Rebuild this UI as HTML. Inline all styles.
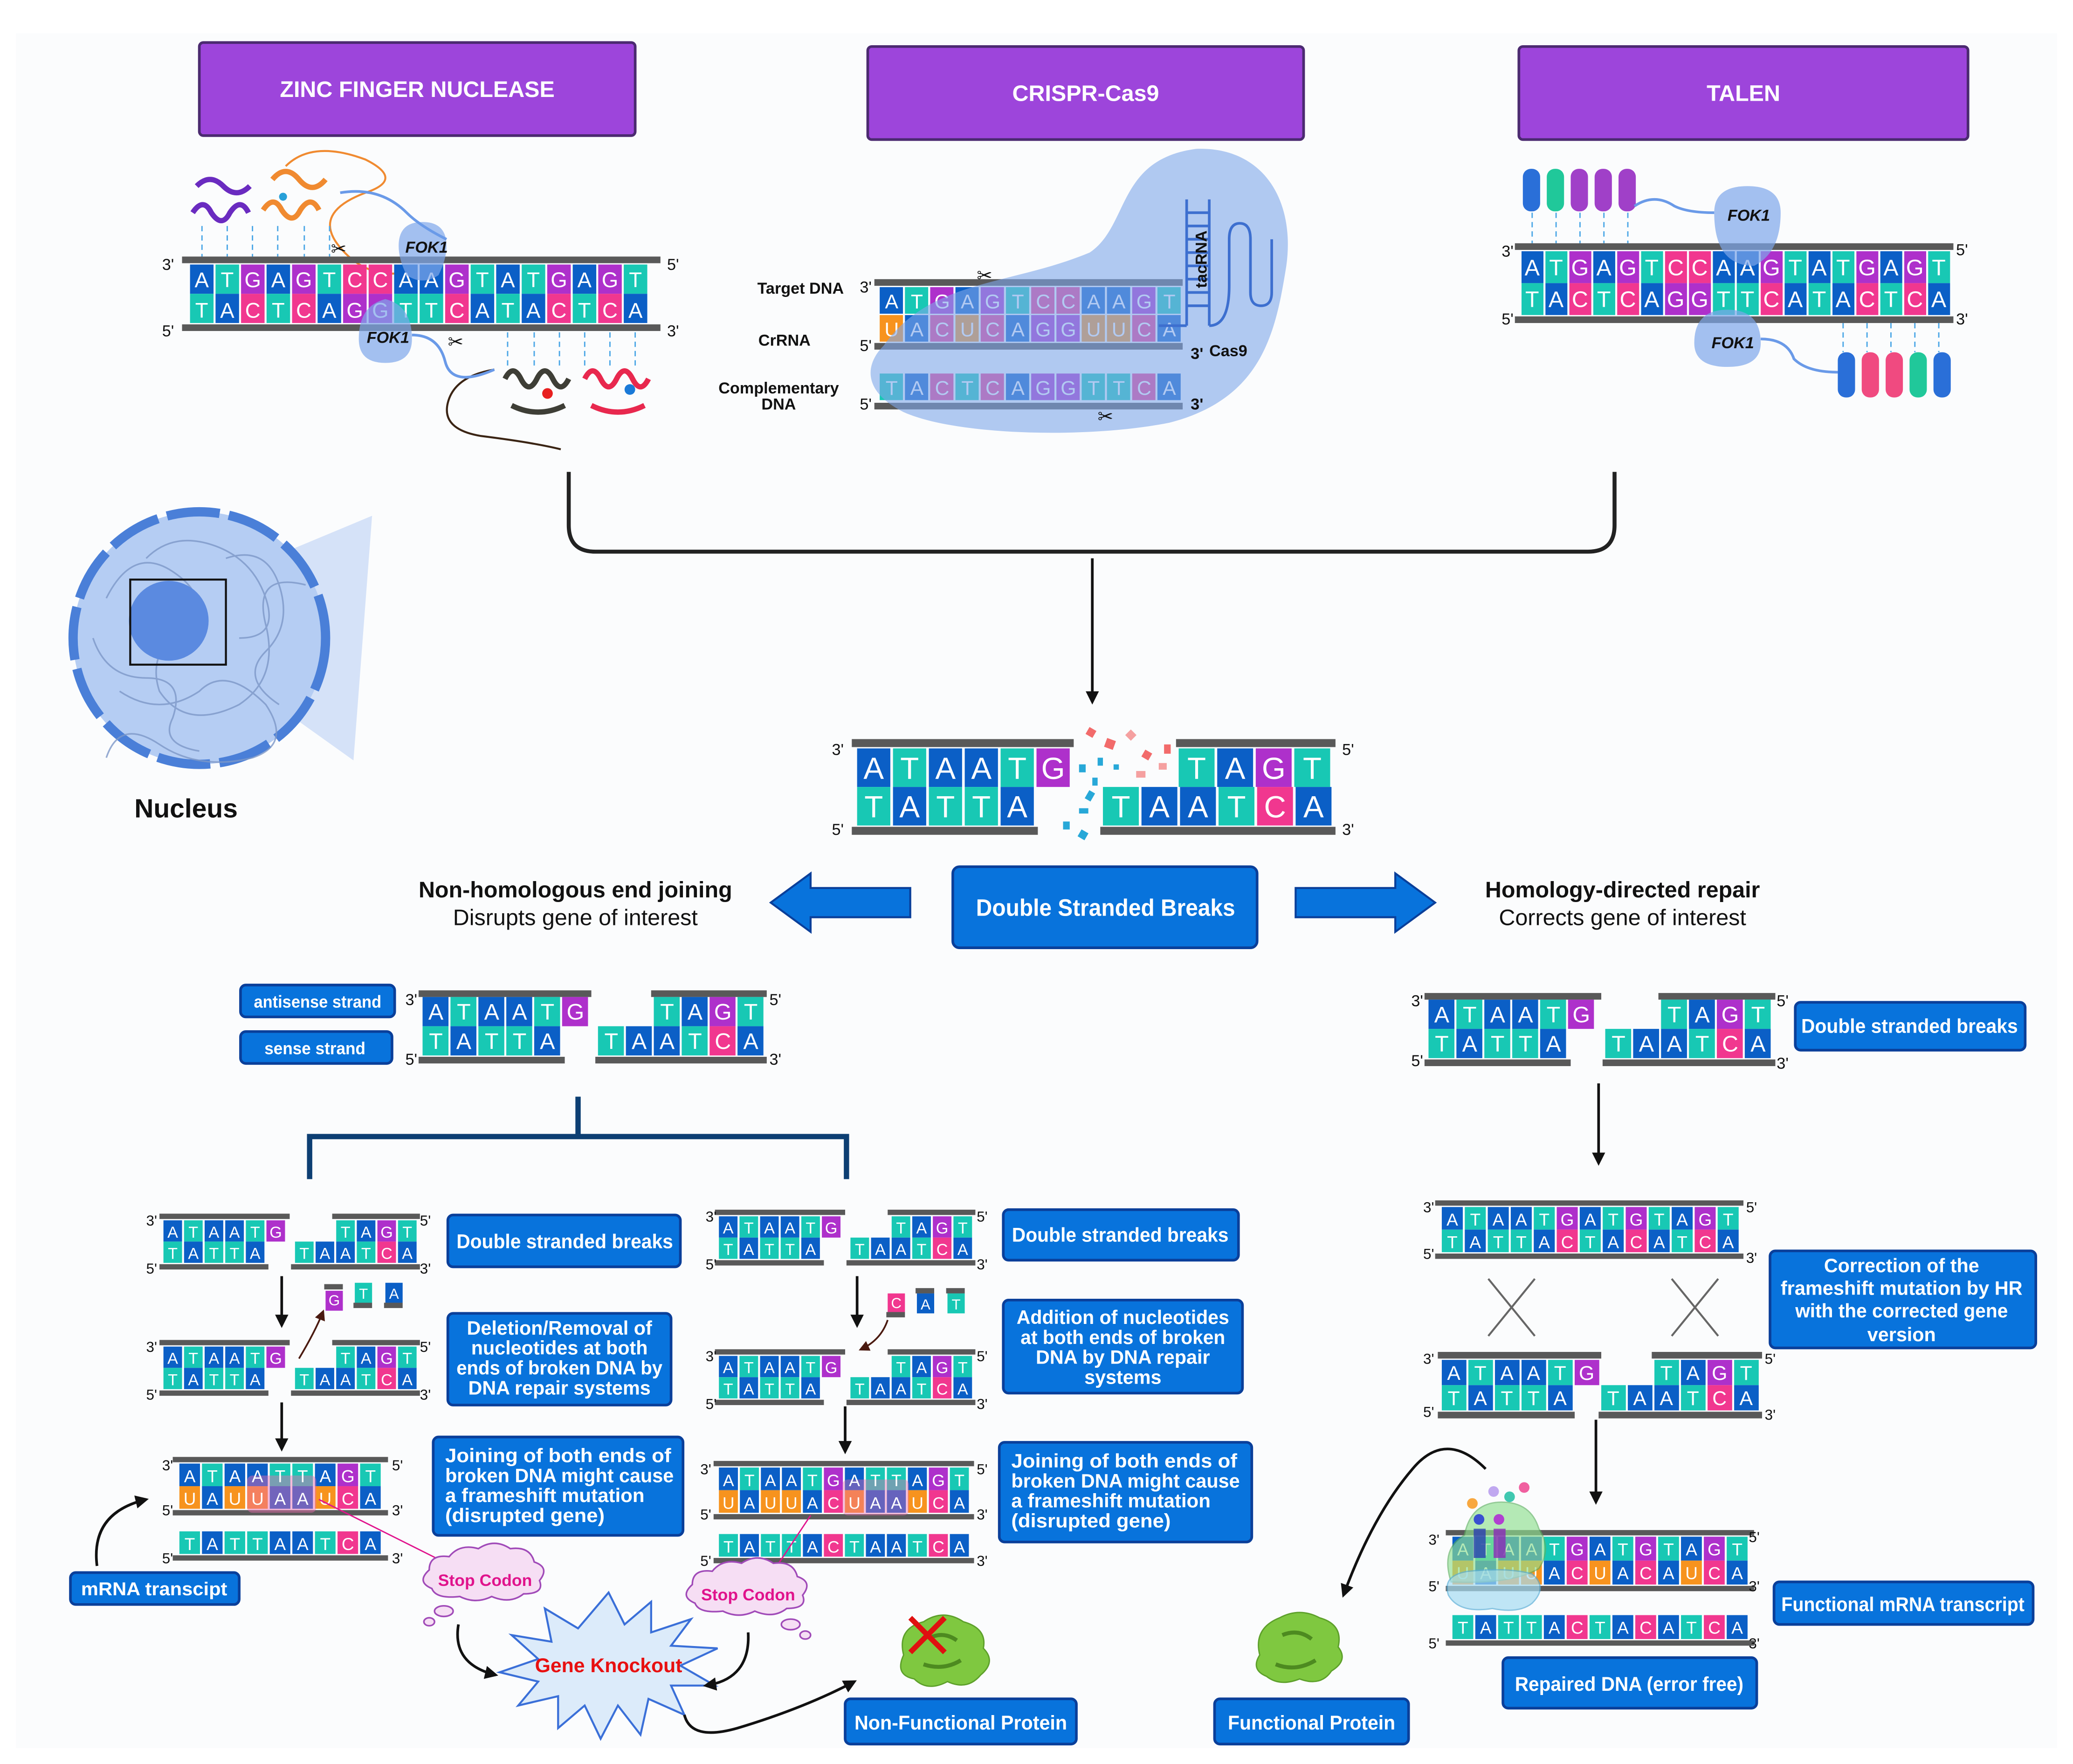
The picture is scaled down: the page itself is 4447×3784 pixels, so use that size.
<!DOCTYPE html>
<html><head><meta charset="utf-8"><style>
html,body{margin:0;padding:0;background:#fff;}
svg{display:block;}
.A{fill:#0b5fc6}.T{fill:#18c8b4}.G{fill:#ae30cb}.C{fill:#f1378f}.U{fill:#f7931e}
.bar{fill:#595959}
.L{fill:#fff;font-family:"Liberation Sans",sans-serif;text-anchor:middle;}
.p{font-family:"Liberation Sans",sans-serif;fill:#111;}
.bx{fill:#0873dc;stroke:#0a3f9a;stroke-width:2;}
.bt{fill:#fff;font-family:"Liberation Sans",sans-serif;font-weight:bold;text-anchor:middle;}
.hd{fill:#9d45db;stroke:#4b2a70;stroke-width:2;}
.ar{stroke:#111;stroke-width:2;fill:none;}
</style></head><body>
<svg width="4447" height="3784" viewBox="0 0 1560 1327" preserveAspectRatio="none" xmlns="http://www.w3.org/2000/svg">
<defs>
<marker id="ah" markerWidth="10" markerHeight="10" refX="8" refY="5" orient="auto" markerUnits="userSpaceOnUse"><path d="M0,0 L10,5 L0,10 z" fill="#111"/></marker>
<marker id="ahs" markerWidth="8" markerHeight="8" refX="6" refY="4" orient="auto" markerUnits="userSpaceOnUse"><path d="M0,0 L8,4 L0,8 z" fill="#4a1a10"/></marker>
</defs>
<rect x="0" y="0" width="1560" height="1327" fill="#fff"/>
<rect x="12" y="25" width="1536" height="1290" fill="#fbfcfd"/>

<!-- Headers -->
<rect class="hd" x="150" y="32" width="328" height="70" rx="3"/>
<text class="bt" x="314" y="73" font-size="17">ZINC FINGER NUCLEASE</text>
<rect class="hd" x="653" y="35" width="328" height="70" rx="3"/>
<text class="bt" x="817" y="76" font-size="17">CRISPR-Cas9</text>
<rect class="hd" x="1143" y="35" width="338" height="70" rx="3"/>
<text class="bt" x="1312" y="76" font-size="17">TALEN</text>

<!-- ZFN proteins -->
<g fill="none" stroke-width="4">
<path d="M145,160 q8,-12 14,0 q8,12 14,0 q8,-12 14,0" stroke="#6a2bc0"/>
<path d="M148,140 q10,-10 20,0 q10,10 20,0" stroke="#6a2bc0"/>
<path d="M198,158 q8,-12 14,0 q8,12 14,0 q8,-12 14,0" stroke="#f08a30"/>
<path d="M205,135 q10,-12 20,0 q10,12 20,0" stroke="#f08a30"/>
<path d="M215,125 q20,-20 60,-5 q30,15 0,25 q-40,15 -20,40 q20,25 50,20" stroke="#f08a30" stroke-width="1.5"/>
<path d="M380,285 q6,-12 12,0 q6,12 12,0 q6,-12 12,0 q6,12 12,0" stroke="#3e3e36"/>
<path d="M385,305 q20,10 40,0" stroke="#3e3e36"/>
<path d="M440,285 q6,-12 12,0 q6,12 12,0 q6,-12 12,0 q6,12 12,0" stroke="#e8284e"/>
<path d="M445,305 q20,10 40,0" stroke="#e8284e"/>
<path d="M372,278 q-30,5 -35,25 q-5,20 25,25 q40,5 60,10" stroke="#3a2414" stroke-width="1.5"/>
</g>
<circle cx="213" cy="148" r="3" fill="#28a0d8"/><circle cx="412" cy="296" r="4" fill="#e82020"/><circle cx="474" cy="293" r="4" fill="#1a7ad8"/>
<g stroke="#4aa6e6" stroke-width="1" stroke-dasharray="4,3">
<path d="M152,170V193M171,170V193M190,170V193M209,170V193M229,170V193M248,170V193"/>
<path d="M382,250V275M402,250V275M421,250V275M440,250V275M459,250V275M478,250V275"/>
</g>

<!-- S1 ZFN DNA -->
<rect class="bar" x="137" y="193" width="360" height="5"/><rect class="bar" x="137" y="244" width="360" height="5"/>
<g>
<rect class="A" x="143" y="199" width="17.7" height="22"/><rect class="T" x="162.2" y="199" width="17.7" height="22"/><rect class="G" x="181.4" y="199" width="17.7" height="22"/><rect class="A" x="200.6" y="199" width="17.7" height="22"/><rect class="G" x="219.8" y="199" width="17.7" height="22"/><rect class="T" x="239" y="199" width="17.7" height="22"/><rect class="C" x="258.2" y="199" width="17.7" height="22"/><rect class="C" x="277.4" y="199" width="17.7" height="22"/><rect class="A" x="296.6" y="199" width="17.7" height="22"/><rect class="A" x="315.8" y="199" width="17.7" height="22"/><rect class="G" x="335" y="199" width="17.7" height="22"/><rect class="T" x="354.2" y="199" width="17.7" height="22"/><rect class="A" x="373.4" y="199" width="17.7" height="22"/><rect class="T" x="392.6" y="199" width="17.7" height="22"/><rect class="G" x="411.8" y="199" width="17.7" height="22"/><rect class="A" x="431" y="199" width="17.7" height="22"/><rect class="G" x="450.2" y="199" width="17.7" height="22"/><rect class="T" x="469.4" y="199" width="17.7" height="22"/>
<rect class="T" x="143" y="221" width="17.7" height="22"/><rect class="A" x="162.2" y="221" width="17.7" height="22"/><rect class="C" x="181.4" y="221" width="17.7" height="22"/><rect class="T" x="200.6" y="221" width="17.7" height="22"/><rect class="C" x="219.8" y="221" width="17.7" height="22"/><rect class="A" x="239" y="221" width="17.7" height="22"/><rect class="G" x="258.2" y="221" width="17.7" height="22"/><rect class="G" x="277.4" y="221" width="17.7" height="22"/><rect class="T" x="296.6" y="221" width="17.7" height="22"/><rect class="T" x="315.8" y="221" width="17.7" height="22"/><rect class="C" x="335" y="221" width="17.7" height="22"/><rect class="A" x="354.2" y="221" width="17.7" height="22"/><rect class="T" x="373.4" y="221" width="17.7" height="22"/><rect class="A" x="392.6" y="221" width="17.7" height="22"/><rect class="C" x="411.8" y="221" width="17.7" height="22"/><rect class="T" x="431" y="221" width="17.7" height="22"/><rect class="C" x="450.2" y="221" width="17.7" height="22"/><rect class="A" x="469.4" y="221" width="17.7" height="22"/>
<text class="L" font-size="16" y="216" x="151.8 171 190.2 209.4 228.6 247.8 267 286.2 305.4 324.6 343.8 363 382.2 401.4 420.6 439.8 459 478.2">ATGAGTCCAAGTATGAGT</text>
<text class="L" font-size="16" y="239" x="151.8 171 190.2 209.4 228.6 247.8 267 286.2 305.4 324.6 343.8 363 382.2 401.4 420.6 439.8 459 478.2">TACTCAGGTTCATACTCA</text>
</g>
<text class="p" x="122" y="203" font-size="12">3'</text><text class="p" x="122" y="253" font-size="12">5'</text>
<text class="p" x="502" y="203" font-size="12">5'</text><text class="p" x="502" y="253" font-size="12">3'</text>
<path d="M300,185 q0,-18 18,-18 q18,0 18,18 q0,10 -6,22 q-12,8 -24,0 q-6,-12 -6,-22z" fill="#7ea6ea" opacity="0.7"/>
<path d="M270,255 q0,-25 20,-30 q20,5 20,30 q0,18 -20,18 q-20,0 -20,-18z" fill="#7ea6ea" opacity="0.7"/>
<path d="M336,180 q-20,-10 -30,-20 q-20,-20 -50,-15" stroke="#6a9ae8" stroke-width="2" fill="none"/>
<path d="M310,252 q20,0 25,20 q5,20 37,6" stroke="#6a9ae8" stroke-width="2" fill="none"/>
<text class="p" x="305" y="190" font-size="12" font-weight="bold" font-style="italic">FOK1</text>
<text class="p" x="276" y="258" font-size="12" font-weight="bold" font-style="italic">FOK1</text>
<text class="p" x="249" y="192" font-size="14">✂</text><text class="p" x="337" y="262" font-size="14">✂</text>

<!-- CRISPR -->
<rect class="bar" x="658" y="210" width="232" height="5"/><rect class="bar" x="658" y="258" width="232" height="5"/><rect class="bar" x="658" y="303" width="232" height="5"/>
<g>
<rect class="A" x="662" y="216" width="17.5" height="20"/><rect class="T" x="681" y="216" width="17.5" height="20"/><rect class="G" x="700" y="216" width="17.5" height="20"/><rect class="A" x="719" y="216" width="17.5" height="20"/><rect class="G" x="738" y="216" width="17.5" height="20"/><rect class="T" x="757" y="216" width="17.5" height="20"/><rect class="C" x="776" y="216" width="17.5" height="20"/><rect class="C" x="795" y="216" width="17.5" height="20"/><rect class="A" x="814" y="216" width="17.5" height="20"/><rect class="A" x="833" y="216" width="17.5" height="20"/><rect class="G" x="852" y="216" width="17.5" height="20"/><rect class="T" x="871" y="216" width="17.5" height="20"/>
<rect class="U" x="662" y="237" width="17.5" height="20"/><rect class="A" x="681" y="237" width="17.5" height="20"/><rect class="C" x="700" y="237" width="17.5" height="20"/><rect class="U" x="719" y="237" width="17.5" height="20"/><rect class="C" x="738" y="237" width="17.5" height="20"/><rect class="A" x="757" y="237" width="17.5" height="20"/><rect class="G" x="776" y="237" width="17.5" height="20"/><rect class="G" x="795" y="237" width="17.5" height="20"/><rect class="U" x="814" y="237" width="17.5" height="20"/><rect class="U" x="833" y="237" width="17.5" height="20"/><rect class="C" x="852" y="237" width="17.5" height="20"/><rect class="A" x="871" y="237" width="17.5" height="20"/>
<rect class="T" x="662" y="281" width="17.5" height="20"/><rect class="A" x="681" y="281" width="17.5" height="20"/><rect class="C" x="700" y="281" width="17.5" height="20"/><rect class="T" x="719" y="281" width="17.5" height="20"/><rect class="C" x="738" y="281" width="17.5" height="20"/><rect class="A" x="757" y="281" width="17.5" height="20"/><rect class="G" x="776" y="281" width="17.5" height="20"/><rect class="G" x="795" y="281" width="17.5" height="20"/><rect class="T" x="814" y="281" width="17.5" height="20"/><rect class="T" x="833" y="281" width="17.5" height="20"/><rect class="C" x="852" y="281" width="17.5" height="20"/><rect class="A" x="871" y="281" width="17.5" height="20"/>
<text class="L" font-size="15" y="232" x="671 690 709 728 747 766 785 804 823 842 861 880">ATGAGTCCAAGT</text>
<text class="L" font-size="15" y="253" x="671 690 709 728 747 766 785 804 823 842 861 880">UACUCAGGUUCA</text>
<text class="L" font-size="15" y="297" x="671 690 709 728 747 766 785 804 823 842 861 880">TACTCAGGTTCA</text>
</g>
<path d="M665,260 C700,210 760,215 820,190 C850,170 840,120 900,112 C950,110 975,150 968,200 C960,250 950,300 880,318 C820,330 720,328 680,310 C650,295 650,275 665,260z" fill="#7ea6ea" opacity="0.6"/>
<g stroke="#3d6fcf" stroke-width="2" fill="none">
<path d="M893,150 V245 M893,245 H872"/><path d="M910,150 V245"/>
<path d="M893,160 H910M893,170 H910M893,180 H910M893,190 H910M893,200 H910M893,210 H910M893,220 H910M893,230 H910"/>
<path d="M910,245 q15,0 15,-30 V180 q0,-12 8,-12 q8,0 8,12 V220 q0,10 8,10 q8,0 8,-10 V180"/>
</g>
<text class="p" x="908" y="195" font-size="12" font-weight="bold" transform="rotate(-90 908 195)" text-anchor="middle">tacRNA</text>
<text class="p" x="635" y="221" font-size="12" font-weight="bold" text-anchor="end">Target DNA</text>
<text class="p" x="610" y="260" font-size="12" font-weight="bold" text-anchor="end">CrRNA</text>
<text class="p" x="586" y="296" font-size="12" font-weight="bold" text-anchor="middle">Complementary</text>
<text class="p" x="586" y="308" font-size="12" font-weight="bold" text-anchor="middle">DNA</text>
<text class="p" x="647" y="220" font-size="12">3'</text><text class="p" x="647" y="264" font-size="12">5'</text><text class="p" x="647" y="308" font-size="12">5'</text>
<text class="p" x="896" y="270" font-size="12" font-weight="bold" fill="#1a4bb0">3'</text>
<text class="p" x="910" y="268" font-size="12" font-weight="bold">Cas9</text>
<text class="p" x="896" y="308" font-size="12" font-weight="bold" fill="#1a4bb0">3'</text>
<text class="p" x="735" y="212" font-size="14">✂</text><text class="p" x="826" y="318" font-size="14">✂</text>

<!-- TALEN -->
<g>
<rect x="1146" y="127" width="13" height="32" rx="6" fill="#2a6fd8"/><rect x="1164" y="127" width="13" height="32" rx="6" fill="#20c89a"/><rect x="1182" y="127" width="13" height="32" rx="6" fill="#a040c8"/><rect x="1200" y="127" width="13" height="32" rx="6" fill="#a040c8"/><rect x="1218" y="127" width="13" height="32" rx="6" fill="#a040c8"/>
<rect x="1383" y="265" width="13" height="34" rx="6" fill="#2a6fd8"/><rect x="1401" y="265" width="13" height="34" rx="6" fill="#f04a80"/><rect x="1419" y="265" width="13" height="34" rx="6" fill="#f04a80"/><rect x="1437" y="265" width="13" height="34" rx="6" fill="#20c89a"/><rect x="1455" y="265" width="13" height="34" rx="6" fill="#2a6fd8"/>
</g>
<g stroke="#4aa6e6" stroke-width="1" stroke-dasharray="4,3"><path d="M1153,160V183M1171,160V183M1189,160V183M1207,160V183M1225,160V183M1387,243V265M1405,243V265M1423,243V265M1441,243V265M1459,243V265"/></g>
<rect class="bar" x="1140" y="183" width="330" height="5"/><rect class="bar" x="1140" y="238" width="330" height="5"/>
<g>
<rect class="A" x="1145" y="189" width="16.5" height="24"/><rect class="T" x="1163" y="189" width="16.5" height="24"/><rect class="G" x="1181" y="189" width="16.5" height="24"/><rect class="A" x="1199" y="189" width="16.5" height="24"/><rect class="G" x="1217" y="189" width="16.5" height="24"/><rect class="T" x="1235" y="189" width="16.5" height="24"/><rect class="C" x="1253" y="189" width="16.5" height="24"/><rect class="C" x="1271" y="189" width="16.5" height="24"/><rect class="A" x="1289" y="189" width="16.5" height="24"/><rect class="A" x="1307" y="189" width="16.5" height="24"/><rect class="G" x="1325" y="189" width="16.5" height="24"/><rect class="T" x="1343" y="189" width="16.5" height="24"/><rect class="A" x="1361" y="189" width="16.5" height="24"/><rect class="T" x="1379" y="189" width="16.5" height="24"/><rect class="G" x="1397" y="189" width="16.5" height="24"/><rect class="A" x="1415" y="189" width="16.5" height="24"/><rect class="G" x="1433" y="189" width="16.5" height="24"/><rect class="T" x="1451" y="189" width="16.5" height="24"/>
<rect class="T" x="1145" y="213" width="16.5" height="24"/><rect class="A" x="1163" y="213" width="16.5" height="24"/><rect class="C" x="1181" y="213" width="16.5" height="24"/><rect class="T" x="1199" y="213" width="16.5" height="24"/><rect class="C" x="1217" y="213" width="16.5" height="24"/><rect class="A" x="1235" y="213" width="16.5" height="24"/><rect class="G" x="1253" y="213" width="16.5" height="24"/><rect class="G" x="1271" y="213" width="16.5" height="24"/><rect class="T" x="1289" y="213" width="16.5" height="24"/><rect class="T" x="1307" y="213" width="16.5" height="24"/><rect class="C" x="1325" y="213" width="16.5" height="24"/><rect class="A" x="1343" y="213" width="16.5" height="24"/><rect class="T" x="1361" y="213" width="16.5" height="24"/><rect class="A" x="1379" y="213" width="16.5" height="24"/><rect class="C" x="1397" y="213" width="16.5" height="24"/><rect class="T" x="1415" y="213" width="16.5" height="24"/><rect class="C" x="1433" y="213" width="16.5" height="24"/><rect class="A" x="1451" y="213" width="16.5" height="24"/>
<text class="L" font-size="17" y="207" x="1153 1171 1189 1207 1225 1243 1261 1279 1297 1315 1333 1351 1369 1387 1405 1423 1441 1459">ATGAGTCCAAGTATGAGT</text>
<text class="L" font-size="17" y="231" x="1153 1171 1189 1207 1225 1243 1261 1279 1297 1315 1333 1351 1369 1387 1405 1423 1441 1459">TACTCAGGTTCATACTCA</text>
</g>
<text class="p" x="1130" y="193" font-size="12">3'</text><text class="p" x="1130" y="244" font-size="12">5'</text>
<text class="p" x="1472" y="192" font-size="12">5'</text><text class="p" x="1472" y="244" font-size="12">3'</text>
<path d="M1290,160 q0,-20 25,-20 q25,0 25,20 q0,30 -20,40 q-30,0 -30,-40z" fill="#7ea6ea" opacity="0.7"/>
<path d="M1275,258 q0,-25 25,-25 q25,0 25,25 q0,18 -25,18 q-25,0 -25,-18z" fill="#7ea6ea" opacity="0.7"/>
<path d="M1290,160 q-20,0 -30,-5 q-15,-10 -30,0" stroke="#6a9ae8" stroke-width="2" fill="none"/>
<path d="M1325,255 q20,0 25,15 q10,10 33,10" stroke="#6a9ae8" stroke-width="2" fill="none"/>
<text class="p" x="1300" y="166" font-size="12" font-weight="bold" font-style="italic">FOK1</text>
<text class="p" x="1288" y="262" font-size="12" font-weight="bold" font-style="italic">FOK1</text>

<!-- bracket & arrow -->
<path d="M428,355 V395 Q428,415 448,415 H1195 Q1215,415 1215,395 V355" stroke="#222" stroke-width="3" fill="none"/>
<line class="ar" x1="822" y1="420" x2="822" y2="528" marker-end="url(#ah)"/>

<!-- Nucleus -->
<polygon points="165,436 280,388 266,572 165,500" fill="#c8daf5" opacity="0.75"/>
<circle cx="150" cy="480" r="95" fill="#b5cdf3"/>
<circle cx="150" cy="480" r="95" fill="none" stroke="#4a7fd8" stroke-width="7" stroke-dasharray="40,7"/>
<g fill="none" stroke="#7d98c8" stroke-width="1.2" opacity="0.8">
<path d="M80,450 q20,-40 50,-20 q30,20 10,40 q-30,20 -20,50 q20,30 60,10 q30,-20 20,-60 q-10,-40 30,-30"/>
<path d="M90,520 q30,20 60,0 q20,-20 50,10 q20,30 -10,40 q-40,10 -70,-10 q-30,-20 -40,10"/>
<path d="M110,420 q20,-20 50,-10 q30,10 40,40 q10,30 -20,30"/>
<path d="M70,480 q10,30 40,30 q30,0 20,30 q-10,20 20,25"/>
<path d="M170,420 q30,-10 40,20 q10,30 -10,50 q-20,20 10,40"/>
</g>
<circle cx="127" cy="467" r="30" fill="#5b8ae0"/>
<rect x="98" y="436" width="72" height="64" fill="none" stroke="#111" stroke-width="1.5"/>
<text class="p" x="140" y="615" font-size="20" font-weight="bold" text-anchor="middle">Nucleus</text>

<!-- Center DNA -->
<rect class="bar" x="641" y="556" width="167" height="6"/><rect class="bar" x="885" y="556" width="120" height="6"/>
<rect class="bar" x="641" y="622" width="140" height="6"/><rect class="bar" x="828" y="622" width="177" height="6"/>
<g>
<rect class="A" x="645" y="563" width="25" height="29"/><rect class="T" x="672" y="563" width="25" height="29"/><rect class="A" x="699" y="563" width="25" height="29"/><rect class="A" x="726" y="563" width="25" height="29"/><rect class="T" x="753" y="563" width="25" height="29"/><rect class="G" x="780" y="563" width="25" height="29"/>
<rect class="T" x="645" y="592" width="25" height="29"/><rect class="A" x="672" y="592" width="25" height="29"/><rect class="T" x="699" y="592" width="25" height="29"/><rect class="T" x="726" y="592" width="25" height="29"/><rect class="A" x="753" y="592" width="25" height="29"/>
<rect class="T" x="887" y="563" width="27" height="29"/><rect class="A" x="916" y="563" width="27" height="29"/><rect class="G" x="945" y="563" width="27" height="29"/><rect class="T" x="974" y="563" width="27" height="29"/>
<rect class="T" x="830" y="592" width="27" height="29"/><rect class="A" x="859" y="592" width="27" height="29"/><rect class="A" x="888" y="592" width="27" height="29"/><rect class="T" x="917" y="592" width="27" height="29"/><rect class="C" x="946" y="592" width="27" height="29"/><rect class="A" x="975" y="592" width="27" height="29"/>
<text class="L" font-size="23" y="586" x="657.5 684.5 711.5 738.5 765.5 792.5">ATAATG</text>
<text class="L" font-size="23" y="615" x="657.5 684.5 711.5 738.5 765.5">TATTA</text>
<text class="L" font-size="23" y="586" x="900.5 929.5 958.5 987.5">TAGT</text>
<text class="L" font-size="23" y="615" x="843.5 872.5 901.5 930.5 959.5 988.5">TAATCA</text>
</g>
<g>
<rect x="818" y="548" width="6" height="6" fill="#f26b6b" transform="rotate(30 821 551)"/><rect x="832" y="556" width="7" height="7" fill="#f26b6b" transform="rotate(20 835 559)"/><rect x="848" y="550" width="6" height="6" fill="#f5a0a0" transform="rotate(45 851 553)"/><rect x="860" y="565" width="6" height="6" fill="#f26b6b" transform="rotate(30 863 568)"/><rect x="872" y="574" width="6" height="5" fill="#f5a0a0"/><rect x="876" y="560" width="5" height="7" fill="#f26b6b"/><rect x="855" y="580" width="7" height="5" fill="#f5a0a0"/>
<rect x="812" y="575" width="5" height="6" fill="#28a8d8"/><rect x="826" y="570" width="4" height="6" fill="#28a8d8"/><rect x="838" y="575" width="4" height="4" fill="#28a8d8"/><rect x="818" y="595" width="5" height="7" fill="#28a8d8" transform="rotate(30 820 598)"/><rect x="812" y="608" width="7" height="4" fill="#28a8d8"/><rect x="800" y="618" width="5" height="6" fill="#28a8d8"/><rect x="812" y="625" width="6" height="6" fill="#28a8d8" transform="rotate(30 815 628)"/><rect x="822" y="585" width="4" height="6" fill="#28a8d8"/>
</g>
<text class="p" x="626" y="568" font-size="12">3'</text><text class="p" x="626" y="628" font-size="12">5'</text>
<text class="p" x="1010" y="568" font-size="12">5'</text><text class="p" x="1010" y="628" font-size="12">3'</text>

<!-- DSB box & arrows -->
<rect class="bx" x="717" y="652" width="229" height="61" rx="5"/>
<text class="bt" x="832" y="689" font-size="18" textLength="195" lengthAdjust="spacingAndGlyphs">Double Stranded Breaks</text>
<polygon points="685,668 610,668 610,657 580,679 610,701 610,690 685,690" fill="#0873dc" stroke="#0a3f9a" stroke-width="1.5"/>
<polygon points="975,668 1050,668 1050,657 1080,679 1050,701 1050,690 975,690" fill="#0873dc" stroke="#0a3f9a" stroke-width="1.5"/>
<text class="p" x="433" y="675" font-size="17" font-weight="bold" text-anchor="middle">Non-homologous end joining</text>
<text class="p" x="433" y="696" font-size="17" text-anchor="middle">Disrupts gene of interest</text>
<text class="p" x="1221" y="675" font-size="17" font-weight="bold" text-anchor="middle">Homology-directed repair</text>
<text class="p" x="1221" y="696" font-size="17" text-anchor="middle">Corrects gene of interest</text>

<!-- NHEJ top -->
<rect class="bx" x="181" y="741" width="116" height="24" rx="4"/><text class="bt" x="239" y="758" font-size="13" textLength="96" lengthAdjust="spacingAndGlyphs">antisense strand</text>
<rect class="bx" x="181" y="776" width="114" height="24" rx="4"/><text class="bt" x="237" y="793" font-size="13" textLength="76" lengthAdjust="spacingAndGlyphs">sense strand</text>
<rect class="bar" x="315" y="745" width="130" height="5"/><rect class="bar" x="490" y="745" width="87" height="5"/>
<rect class="bar" x="315" y="795" width="110" height="5"/><rect class="bar" x="448" y="795" width="129" height="5"/>
<g>
<rect class="A" x="318" y="750" width="19.5" height="22"/><rect class="T" x="339" y="750" width="19.5" height="22"/><rect class="A" x="360" y="750" width="19.5" height="22"/><rect class="A" x="381" y="750" width="19.5" height="22"/><rect class="T" x="402" y="750" width="19.5" height="22"/><rect class="G" x="423" y="750" width="19.5" height="22"/>
<rect class="T" x="318" y="772" width="19.5" height="22"/><rect class="A" x="339" y="772" width="19.5" height="22"/><rect class="T" x="360" y="772" width="19.5" height="22"/><rect class="T" x="381" y="772" width="19.5" height="22"/><rect class="A" x="402" y="772" width="19.5" height="22"/>
<rect class="T" x="492" y="750" width="19.5" height="22"/><rect class="A" x="513" y="750" width="19.5" height="22"/><rect class="G" x="534" y="750" width="19.5" height="22"/><rect class="T" x="555" y="750" width="19.5" height="22"/>
<rect class="T" x="450" y="772" width="19.5" height="22"/><rect class="A" x="471" y="772" width="19.5" height="22"/><rect class="A" x="492" y="772" width="19.5" height="22"/><rect class="T" x="513" y="772" width="19.5" height="22"/><rect class="C" x="534" y="772" width="19.5" height="22"/><rect class="A" x="555" y="772" width="19.5" height="22"/>
<text class="L" font-size="17" y="767" x="328 349 370 391 412 433">ATAATG</text>
<text class="L" font-size="17" y="789" x="328 349 370 391 412">TATTA</text>
<text class="L" font-size="17" y="767" x="502 523 544 565">TAGT</text>
<text class="L" font-size="17" y="789" x="460 481 502 523 544 565">TAATCA</text>
</g>
<text class="p" x="305" y="756" font-size="12">3'</text><text class="p" x="305" y="801" font-size="12">5'</text>
<text class="p" x="579" y="756" font-size="12">5'</text><text class="p" x="579" y="801" font-size="12">3'</text>
<path d="M435,825 V855 M233,887 V855 H637 V887" stroke="#0d3f73" stroke-width="4" fill="none"/>

<!-- HDR top -->
<rect class="bar" x="1072" y="747" width="133" height="5"/><rect class="bar" x="1248" y="747" width="88" height="5"/>
<rect class="bar" x="1072" y="797" width="110" height="5"/><rect class="bar" x="1206" y="797" width="130" height="5"/>
<g>
<rect class="A" x="1075" y="752" width="19.5" height="22"/><rect class="T" x="1096" y="752" width="19.5" height="22"/><rect class="A" x="1117" y="752" width="19.5" height="22"/><rect class="A" x="1138" y="752" width="19.5" height="22"/><rect class="T" x="1159" y="752" width="19.5" height="22"/><rect class="G" x="1180" y="752" width="19.5" height="22"/>
<rect class="T" x="1075" y="774" width="19.5" height="22"/><rect class="A" x="1096" y="774" width="19.5" height="22"/><rect class="T" x="1117" y="774" width="19.5" height="22"/><rect class="T" x="1138" y="774" width="19.5" height="22"/><rect class="A" x="1159" y="774" width="19.5" height="22"/>
<rect class="T" x="1250" y="752" width="19.5" height="22"/><rect class="A" x="1271" y="752" width="19.5" height="22"/><rect class="G" x="1292" y="752" width="19.5" height="22"/><rect class="T" x="1313" y="752" width="19.5" height="22"/>
<rect class="T" x="1208" y="774" width="19.5" height="22"/><rect class="A" x="1229" y="774" width="19.5" height="22"/><rect class="A" x="1250" y="774" width="19.5" height="22"/><rect class="T" x="1271" y="774" width="19.5" height="22"/><rect class="C" x="1292" y="774" width="19.5" height="22"/><rect class="A" x="1313" y="774" width="19.5" height="22"/>
<text class="L" font-size="17" y="769" x="1085 1106 1127 1148 1169 1190">ATAATG</text>
<text class="L" font-size="17" y="791" x="1085 1106 1127 1148 1169">TATTA</text>
<text class="L" font-size="17" y="769" x="1260 1281 1302 1323">TAGT</text>
<text class="L" font-size="17" y="791" x="1218 1239 1260 1281 1302 1323">TAATCA</text>
</g>
<text class="p" x="1062" y="757" font-size="12">3'</text><text class="p" x="1062" y="802" font-size="12">5'</text>
<text class="p" x="1337" y="757" font-size="12">5'</text><text class="p" x="1337" y="804" font-size="12">3'</text>
<rect class="bx" x="1351" y="754" width="173" height="36" rx="4"/><text class="bt" x="1437" y="777" font-size="15" textLength="163" lengthAdjust="spacingAndGlyphs">Double stranded breaks</text>
<line class="ar" x1="1203" y1="815" x2="1203" y2="875" marker-end="url(#ah)"/>

<!-- LEFT COLUMN B3 -->
<rect class="bar" x="120" y="913" width="98" height="4"/><rect class="bar" x="250" y="913" width="66" height="4"/>
<rect class="bar" x="120" y="951" width="82" height="4"/><rect class="bar" x="219" y="951" width="97" height="4"/>
<g>
<rect class="A" x="123" y="918" width="14" height="16"/><rect class="T" x="138.5" y="918" width="14" height="16"/><rect class="A" x="154" y="918" width="14" height="16"/><rect class="A" x="169.5" y="918" width="14" height="16"/><rect class="T" x="185" y="918" width="14" height="16"/><rect class="G" x="200.5" y="918" width="14" height="16"/>
<rect class="T" x="123" y="934" width="14" height="16"/><rect class="A" x="138.5" y="934" width="14" height="16"/><rect class="T" x="154" y="934" width="14" height="16"/><rect class="T" x="169.5" y="934" width="14" height="16"/><rect class="A" x="185" y="934" width="14" height="16"/>
<rect class="T" x="253" y="918" width="14" height="16"/><rect class="A" x="268.5" y="918" width="14" height="16"/><rect class="G" x="284" y="918" width="14" height="16"/><rect class="T" x="299.5" y="918" width="14" height="16"/>
<rect class="T" x="222" y="934" width="14" height="16"/><rect class="A" x="237.5" y="934" width="14" height="16"/><rect class="A" x="253" y="934" width="14" height="16"/><rect class="T" x="268.5" y="934" width="14" height="16"/><rect class="C" x="284" y="934" width="14" height="16"/><rect class="A" x="299.5" y="934" width="14" height="16"/>
<text class="L" font-size="12" y="931" x="130 145.5 161 176.5 192 207.5">ATAATG</text>
<text class="L" font-size="12" y="947" x="130 145.5 161 176.5 192">TATTA</text>
<text class="L" font-size="12" y="931" x="260 275.5 291 306.5">TAGT</text>
<text class="L" font-size="12" y="947" x="229 244.5 260 275.5 291 306.5">TAATCA</text>
</g>
<text class="p" x="110" y="922" font-size="11">3'</text><text class="p" x="110" y="958" font-size="11">5'</text>
<text class="p" x="316" y="922" font-size="11">5'</text><text class="p" x="316" y="958" font-size="11">3'</text>
<line class="ar" x1="212" y1="960" x2="212" y2="997" marker-end="url(#ah)"/>
<!-- removed -->
<rect class="bar" x="244" y="966" width="14" height="4"/><rect class="G" x="245" y="971" width="13" height="15"/><text class="L" font-size="11" x="251.5" y="982">G</text>
<rect class="T" x="267" y="965" width="13" height="15"/><rect class="bar" x="266" y="980" width="14" height="4"/><text class="L" font-size="11" x="273.5" y="977">T</text>
<rect class="A" x="290" y="965" width="13" height="15"/><rect class="bar" x="289" y="980" width="14" height="4"/><text class="L" font-size="11" x="296.5" y="977">A</text>
<path d="M225,1022 q12,-20 18,-35" stroke="#4a1a10" stroke-width="1.3" fill="none" marker-end="url(#ahs)"/>
<!-- B4 -->
<rect class="bar" x="120" y="1008" width="98" height="4"/><rect class="bar" x="250" y="1008" width="66" height="4"/>
<rect class="bar" x="120" y="1046" width="82" height="4"/><rect class="bar" x="219" y="1046" width="97" height="4"/>
<g>
<rect class="A" x="123" y="1013" width="14" height="16"/><rect class="T" x="138.5" y="1013" width="14" height="16"/><rect class="A" x="154" y="1013" width="14" height="16"/><rect class="A" x="169.5" y="1013" width="14" height="16"/><rect class="T" x="185" y="1013" width="14" height="16"/><rect class="G" x="200.5" y="1013" width="14" height="16"/>
<rect class="T" x="123" y="1029" width="14" height="16"/><rect class="A" x="138.5" y="1029" width="14" height="16"/><rect class="T" x="154" y="1029" width="14" height="16"/><rect class="T" x="169.5" y="1029" width="14" height="16"/><rect class="A" x="185" y="1029" width="14" height="16"/>
<rect class="T" x="253" y="1013" width="14" height="16"/><rect class="A" x="268.5" y="1013" width="14" height="16"/><rect class="G" x="284" y="1013" width="14" height="16"/><rect class="T" x="299.5" y="1013" width="14" height="16"/>
<rect class="T" x="222" y="1029" width="14" height="16"/><rect class="A" x="237.5" y="1029" width="14" height="16"/><rect class="A" x="253" y="1029" width="14" height="16"/><rect class="T" x="268.5" y="1029" width="14" height="16"/><rect class="C" x="284" y="1029" width="14" height="16"/><rect class="A" x="299.5" y="1029" width="14" height="16"/>
<text class="L" font-size="12" y="1026" x="130 145.5 161 176.5 192 207.5">ATAATG</text>
<text class="L" font-size="12" y="1042" x="130 145.5 161 176.5 192">TATTA</text>
<text class="L" font-size="12" y="1026" x="260 275.5 291 306.5">TAGT</text>
<text class="L" font-size="12" y="1042" x="229 244.5 260 275.5 291 306.5">TAATCA</text>
</g>
<text class="p" x="110" y="1017" font-size="11">3'</text><text class="p" x="110" y="1053" font-size="11">5'</text>
<text class="p" x="316" y="1017" font-size="11">5'</text><text class="p" x="316" y="1053" font-size="11">3'</text>
<line class="ar" x1="212" y1="1055" x2="212" y2="1090" marker-end="url(#ah)"/>
<!-- J1 -->
<rect class="bar" x="130" y="1096" width="162" height="4"/><rect class="bar" x="130" y="1136" width="162" height="4"/><rect class="bar" x="130" y="1170" width="162" height="4"/>
<g>
<rect class="A" x="135" y="1101" width="15.5" height="17"/><rect class="T" x="152" y="1101" width="15.5" height="17"/><rect class="A" x="169" y="1101" width="15.5" height="17"/><rect class="A" x="186" y="1101" width="15.5" height="17"/><rect class="T" x="203" y="1101" width="15.5" height="17"/><rect class="T" x="220" y="1101" width="15.5" height="17"/><rect class="A" x="237" y="1101" width="15.5" height="17"/><rect class="G" x="254" y="1101" width="15.5" height="17"/><rect class="T" x="271" y="1101" width="15.5" height="17"/>
<rect class="U" x="135" y="1118" width="15.5" height="17"/><rect class="A" x="152" y="1118" width="15.5" height="17"/><rect class="U" x="169" y="1118" width="15.5" height="17"/><rect class="U" x="186" y="1118" width="15.5" height="17"/><rect class="A" x="203" y="1118" width="15.5" height="17"/><rect class="A" x="220" y="1118" width="15.5" height="17"/><rect class="U" x="237" y="1118" width="15.5" height="17"/><rect class="C" x="254" y="1118" width="15.5" height="17"/><rect class="A" x="271" y="1118" width="15.5" height="17"/>
<rect class="T" x="135" y="1152" width="15.5" height="17"/><rect class="A" x="152" y="1152" width="15.5" height="17"/><rect class="T" x="169" y="1152" width="15.5" height="17"/><rect class="T" x="186" y="1152" width="15.5" height="17"/><rect class="A" x="203" y="1152" width="15.5" height="17"/><rect class="A" x="220" y="1152" width="15.5" height="17"/><rect class="T" x="237" y="1152" width="15.5" height="17"/><rect class="C" x="254" y="1152" width="15.5" height="17"/><rect class="A" x="271" y="1152" width="15.5" height="17"/>
<rect x="186" y="1110" width="52" height="28" rx="4" fill="#f06ab0" opacity="0.45"/>
<text class="L" font-size="13" y="1115" x="142.8 159.8 176.8 193.8 210.8 227.8 244.8 261.8 278.8">ATAATTAGT</text>
<text class="L" font-size="13" y="1132" x="142.8 159.8 176.8 193.8 210.8 227.8 244.8 261.8 278.8">UAUUAAUCA</text>
<text class="L" font-size="13" y="1166" x="142.8 159.8 176.8 193.8 210.8 227.8 244.8 261.8 278.8">TATTAATCA</text>
</g>
<text class="p" x="122" y="1106" font-size="11">3'</text><text class="p" x="122" y="1140" font-size="11">5'</text><text class="p" x="122" y="1176" font-size="11">5'</text>
<text class="p" x="295" y="1106" font-size="11">5'</text><text class="p" x="295" y="1140" font-size="11">3'</text><text class="p" x="295" y="1176" font-size="11">3'</text>
<line x1="240" y1="1128" x2="328" y2="1172" stroke="#e0138c" stroke-width="1"/>

<rect class="bx" x="337" y="914" width="175" height="39" rx="4"/><text class="bt" x="425" y="939" font-size="15" textLength="163" lengthAdjust="spacingAndGlyphs">Double stranded breaks</text>
<rect class="bx" x="337" y="988" width="168" height="69" rx="4"/>
<text class="bt" x="421" y="1004" font-size="14.5">Deletion/Removal of</text>
<text class="bt" x="421" y="1019" font-size="14.5">nucleotides at both</text>
<text class="bt" x="421" y="1034" font-size="14.5" textLength="155" lengthAdjust="spacingAndGlyphs">ends of broken DNA by</text>
<text class="bt" x="421" y="1049" font-size="14.5">DNA repair systems</text>
<rect class="bx" x="326" y="1081" width="188" height="74" rx="4"/>
<g class="bt" font-size="14.5" text-anchor="start" style="text-anchor:start">
<text x="335" y="1100" textLength="170" lengthAdjust="spacingAndGlyphs">Joining of  both ends of</text>
<text x="335" y="1115" textLength="172" lengthAdjust="spacingAndGlyphs">broken DNA might cause</text>
<text x="335" y="1130" textLength="150" lengthAdjust="spacingAndGlyphs">a frameshift mutation</text>
<text x="335" y="1145" textLength="120" lengthAdjust="spacingAndGlyphs">(disrupted gene)</text>
</g>

<!-- MIDDLE COLUMN B5 -->
<rect class="bar" x="538" y="910" width="98" height="4"/><rect class="bar" x="668" y="910" width="66" height="4"/>
<rect class="bar" x="538" y="948" width="82" height="4"/><rect class="bar" x="637" y="948" width="97" height="4"/>
<g>
<rect class="A" x="541" y="915" width="14" height="16"/><rect class="T" x="556.5" y="915" width="14" height="16"/><rect class="A" x="572" y="915" width="14" height="16"/><rect class="A" x="587.5" y="915" width="14" height="16"/><rect class="T" x="603" y="915" width="14" height="16"/><rect class="G" x="618.5" y="915" width="14" height="16"/>
<rect class="T" x="541" y="931" width="14" height="16"/><rect class="A" x="556.5" y="931" width="14" height="16"/><rect class="T" x="572" y="931" width="14" height="16"/><rect class="T" x="587.5" y="931" width="14" height="16"/><rect class="A" x="603" y="931" width="14" height="16"/>
<rect class="T" x="671" y="915" width="14" height="16"/><rect class="A" x="686.5" y="915" width="14" height="16"/><rect class="G" x="702" y="915" width="14" height="16"/><rect class="T" x="717.5" y="915" width="14" height="16"/>
<rect class="T" x="640" y="931" width="14" height="16"/><rect class="A" x="655.5" y="931" width="14" height="16"/><rect class="A" x="671" y="931" width="14" height="16"/><rect class="T" x="686.5" y="931" width="14" height="16"/><rect class="C" x="702" y="931" width="14" height="16"/><rect class="A" x="717.5" y="931" width="14" height="16"/>
<text class="L" font-size="12" y="928" x="548 563.5 579 594.5 610 625.5">ATAATG</text>
<text class="L" font-size="12" y="944" x="548 563.5 579 594.5 610">TATTA</text>
<text class="L" font-size="12" y="928" x="678 693.5 709 724.5">TAGT</text>
<text class="L" font-size="12" y="944" x="647 662.5 678 693.5 709 724.5">TAATCA</text>
</g>
<text class="p" x="531" y="919" font-size="11">3'</text><text class="p" x="531" y="955" font-size="11">5'</text>
<text class="p" x="735" y="919" font-size="11">5'</text><text class="p" x="735" y="955" font-size="11">3'</text>
<line class="ar" x1="645" y1="960" x2="645" y2="997" marker-end="url(#ah)"/>
<rect class="C" x="668" y="973" width="13" height="14"/><rect class="bar" x="667" y="987" width="14" height="4"/><text class="L" font-size="11" x="674.5" y="984">C</text>
<rect class="bar" x="689" y="969" width="14" height="4"/><rect class="A" x="690" y="973" width="13" height="15"/><text class="L" font-size="11" x="696.5" y="985">A</text>
<rect class="bar" x="712" y="969" width="14" height="4"/><rect class="T" x="713" y="973" width="13" height="15"/><text class="L" font-size="11" x="719.5" y="985">T</text>
<path d="M668,993 q-5,15 -20,22" stroke="#4a1a10" stroke-width="1.3" fill="none" marker-end="url(#ahs)"/>
<!-- B6 -->
<rect class="bar" x="538" y="1015" width="98" height="4"/><rect class="bar" x="668" y="1015" width="66" height="4"/>
<rect class="bar" x="538" y="1053" width="82" height="4"/><rect class="bar" x="637" y="1053" width="97" height="4"/>
<g>
<rect class="A" x="541" y="1020" width="14" height="16"/><rect class="T" x="556.5" y="1020" width="14" height="16"/><rect class="A" x="572" y="1020" width="14" height="16"/><rect class="A" x="587.5" y="1020" width="14" height="16"/><rect class="T" x="603" y="1020" width="14" height="16"/><rect class="G" x="618.5" y="1020" width="14" height="16"/>
<rect class="T" x="541" y="1036" width="14" height="16"/><rect class="A" x="556.5" y="1036" width="14" height="16"/><rect class="T" x="572" y="1036" width="14" height="16"/><rect class="T" x="587.5" y="1036" width="14" height="16"/><rect class="A" x="603" y="1036" width="14" height="16"/>
<rect class="T" x="671" y="1020" width="14" height="16"/><rect class="A" x="686.5" y="1020" width="14" height="16"/><rect class="G" x="702" y="1020" width="14" height="16"/><rect class="T" x="717.5" y="1020" width="14" height="16"/>
<rect class="T" x="640" y="1036" width="14" height="16"/><rect class="A" x="655.5" y="1036" width="14" height="16"/><rect class="A" x="671" y="1036" width="14" height="16"/><rect class="T" x="686.5" y="1036" width="14" height="16"/><rect class="C" x="702" y="1036" width="14" height="16"/><rect class="A" x="717.5" y="1036" width="14" height="16"/>
<text class="L" font-size="12" y="1033" x="548 563.5 579 594.5 610 625.5">ATAATG</text>
<text class="L" font-size="12" y="1049" x="548 563.5 579 594.5 610">TATTA</text>
<text class="L" font-size="12" y="1033" x="678 693.5 709 724.5">TAGT</text>
<text class="L" font-size="12" y="1049" x="647 662.5 678 693.5 709 724.5">TAATCA</text>
</g>
<text class="p" x="531" y="1024" font-size="11">3'</text><text class="p" x="531" y="1060" font-size="11">5'</text>
<text class="p" x="735" y="1024" font-size="11">5'</text><text class="p" x="735" y="1060" font-size="11">3'</text>
<line class="ar" x1="636" y1="1058" x2="636" y2="1092" marker-end="url(#ah)"/>
<!-- J2 -->
<rect class="bar" x="537" y="1099" width="196" height="4"/><rect class="bar" x="537" y="1139" width="196" height="4"/><rect class="bar" x="537" y="1172" width="196" height="4"/>
<g>
<rect class="A" x="541" y="1104" width="14.3" height="17"/><rect class="T" x="556.8" y="1104" width="14.3" height="17"/><rect class="A" x="572.6" y="1104" width="14.3" height="17"/><rect class="A" x="588.4" y="1104" width="14.3" height="17"/><rect class="T" x="604.2" y="1104" width="14.3" height="17"/><rect class="G" x="620" y="1104" width="14.3" height="17"/><rect class="A" x="635.8" y="1104" width="14.3" height="17"/><rect class="T" x="651.6" y="1104" width="14.3" height="17"/><rect class="T" x="667.4" y="1104" width="14.3" height="17"/><rect class="A" x="683.2" y="1104" width="14.3" height="17"/><rect class="G" x="699" y="1104" width="14.3" height="17"/><rect class="T" x="714.8" y="1104" width="14.3" height="17"/>
<rect class="U" x="541" y="1121" width="14.3" height="17"/><rect class="A" x="556.8" y="1121" width="14.3" height="17"/><rect class="U" x="572.6" y="1121" width="14.3" height="17"/><rect class="U" x="588.4" y="1121" width="14.3" height="17"/><rect class="A" x="604.2" y="1121" width="14.3" height="17"/><rect class="C" x="620" y="1121" width="14.3" height="17"/><rect class="U" x="635.8" y="1121" width="14.3" height="17"/><rect class="A" x="651.6" y="1121" width="14.3" height="17"/><rect class="A" x="667.4" y="1121" width="14.3" height="17"/><rect class="U" x="683.2" y="1121" width="14.3" height="17"/><rect class="C" x="699" y="1121" width="14.3" height="17"/><rect class="A" x="714.8" y="1121" width="14.3" height="17"/>
<rect class="T" x="541" y="1154" width="14.3" height="17"/><rect class="A" x="556.8" y="1154" width="14.3" height="17"/><rect class="T" x="572.6" y="1154" width="14.3" height="17"/><rect class="T" x="588.4" y="1154" width="14.3" height="17"/><rect class="A" x="604.2" y="1154" width="14.3" height="17"/><rect class="C" x="620" y="1154" width="14.3" height="17"/><rect class="T" x="635.8" y="1154" width="14.3" height="17"/><rect class="A" x="651.6" y="1154" width="14.3" height="17"/><rect class="A" x="667.4" y="1154" width="14.3" height="17"/><rect class="T" x="683.2" y="1154" width="14.3" height="17"/><rect class="C" x="699" y="1154" width="14.3" height="17"/><rect class="A" x="714.8" y="1154" width="14.3" height="17"/>
<rect x="634" y="1113" width="50" height="27" rx="4" fill="#f06ab0" opacity="0.4"/>
<text class="L" font-size="12.5" y="1118" x="548.2 564 579.8 595.6 611.4 627.2 643 658.8 674.6 690.4 706.2 722">ATAATGATTAGT</text>
<text class="L" font-size="12.5" y="1135" x="548.2 564 579.8 595.6 611.4 627.2 643 658.8 674.6 690.4 706.2 722">UAUUACUAAUCA</text>
<text class="L" font-size="12.5" y="1168" x="548.2 564 579.8 595.6 611.4 627.2 643 658.8 674.6 690.4 706.2 722">TATTACTAATCA</text>
</g>
<text class="p" x="527" y="1109" font-size="11">3'</text><text class="p" x="527" y="1143" font-size="11">5'</text><text class="p" x="527" y="1178" font-size="11">5'</text>
<text class="p" x="735" y="1109" font-size="11">5'</text><text class="p" x="735" y="1143" font-size="11">3'</text><text class="p" x="735" y="1178" font-size="11">3'</text>
<line x1="610" y1="1140" x2="578" y2="1188" stroke="#e0138c" stroke-width="1"/>

<rect class="bx" x="755" y="910" width="177" height="38" rx="4"/><text class="bt" x="843" y="934" font-size="15" textLength="163" lengthAdjust="spacingAndGlyphs">Double stranded breaks</text>
<rect class="bx" x="755" y="978" width="180" height="70" rx="4"/>
<text class="bt" x="845" y="996" font-size="14.5" textLength="160" lengthAdjust="spacingAndGlyphs">Addition of nucleotides</text>
<text class="bt" x="845" y="1011" font-size="14.5" textLength="154" lengthAdjust="spacingAndGlyphs">at both ends of broken</text>
<text class="bt" x="845" y="1026" font-size="14.5">DNA by  DNA repair</text>
<text class="bt" x="845" y="1041" font-size="14.5">systems</text>
<rect class="bx" x="752" y="1085" width="190" height="75" rx="4"/>
<g class="bt" font-size="14.5" style="text-anchor:start">
<text x="761" y="1104" textLength="170" lengthAdjust="spacingAndGlyphs">Joining of  both ends of</text>
<text x="761" y="1119" textLength="172" lengthAdjust="spacingAndGlyphs">broken DNA might cause</text>
<text x="761" y="1134" textLength="150" lengthAdjust="spacingAndGlyphs">a frameshift mutation</text>
<text x="761" y="1149" textLength="120" lengthAdjust="spacingAndGlyphs">(disrupted gene)</text>
</g>

<!-- mRNA & knockout -->
<rect class="bx" x="53" y="1183" width="127" height="24" rx="4"/><text class="bt" x="116" y="1200" font-size="14" textLength="110" lengthAdjust="spacingAndGlyphs">mRNA transcipt</text>
<path d="M73,1178 q-5,-40 37,-50" class="ar" marker-end="url(#ah)"/>
<g fill="#f6def4" stroke="#a04ab8" stroke-width="1.2">
<path d="M325,1195 q-12,-5 -2,-14 q0,-12 15,-10 q8,-10 22,-6 q12,-8 24,0 q15,-2 18,10 q12,4 4,14 q4,10 -12,10 q-10,8 -24,2 q-12,6 -24,0 q-18,2 -21,-6z"/>
<ellipse cx="334" cy="1212" rx="7" ry="4"/><ellipse cx="323" cy="1220" rx="4" ry="3"/>
<path d="M523,1206 q-12,-5 -2,-14 q0,-12 15,-10 q8,-10 22,-6 q12,-8 24,0 q15,-2 18,10 q12,4 4,14 q4,10 -12,10 q-10,8 -24,2 q-12,6 -24,0 q-18,2 -21,-6z"/>
<ellipse cx="595" cy="1222" rx="7" ry="4"/><ellipse cx="606" cy="1230" rx="4" ry="3"/>
</g>
<text x="365" y="1193" font-size="12.5" font-weight="bold" fill="#e0138c" text-anchor="middle" font-family="Liberation Sans, sans-serif">Stop Codon</text>
<text x="563" y="1204" font-size="12.5" font-weight="bold" fill="#e0138c" text-anchor="middle" font-family="Liberation Sans, sans-serif">Stop Codon</text>
<polygon points="458,1198 470,1222 490,1205 490,1228 520,1218 505,1238 540,1240 512,1253 538,1268 505,1268 515,1290 488,1278 482,1305 465,1283 452,1308 440,1283 420,1300 420,1276 390,1283 405,1265 376,1258 405,1248 385,1230 415,1235 410,1210 435,1225" fill="#dcebfa" stroke="#3a6fd8" stroke-width="1.5"/>
<text x="458" y="1258" font-size="15" font-weight="bold" fill="#e81010" text-anchor="middle" font-family="Liberation Sans, sans-serif">Gene Knockout</text>
<path d="M345,1222 q-5,30 28,38" class="ar" marker-end="url(#ah)"/>
<path d="M563,1228 q2,35 -32,40" class="ar" marker-end="url(#ah)"/>
<path d="M515,1290 q5,20 40,10 q50,-15 88,-35" class="ar" marker-end="url(#ah)"/>

<!-- proteins -->
<path d="M680,1245 q-5,-20 15,-25 q15,-10 30,0 q18,5 15,20 q10,10 -2,20 q-10,12 -25,5 q-15,8 -25,-2 q-15,-3 -8,-18z" fill="#7fc840" stroke="#5da02a" stroke-width="1"/>
<path d="M700,1232 q10,-5 20,2 M695,1252 q15,5 28,-3" stroke="#4d8a20" stroke-width="3" fill="none"/>
<path d="M685,1217 L711,1243 M711,1217 L685,1243" stroke="#e01010" stroke-width="4"/>
<rect class="bx" x="636" y="1278" width="174" height="34" rx="4"/><text class="bt" x="723" y="1301" font-size="15" textLength="160" lengthAdjust="spacingAndGlyphs">Non-Functional Protein</text>
<path d="M948,1245 q-5,-20 15,-28 q15,-8 30,0 q18,5 14,22 q8,10 -5,18 q-8,12 -24,6 q-15,6 -25,-2 q-12,-5 -5,-16z" fill="#7fc840" stroke="#5da02a" stroke-width="1"/>
<path d="M965,1230 q12,-5 22,3 M960,1252 q15,6 30,-3" stroke="#4d8a20" stroke-width="3" fill="none"/>
<rect class="bx" x="914" y="1278" width="146" height="34" rx="4"/><text class="bt" x="987" y="1301" font-size="15" textLength="126" lengthAdjust="spacingAndGlyphs">Functional Protein</text>
<path d="M1118,1105 q-30,-30 -55,0 q-30,35 -52,95" class="ar" marker-end="url(#ah)"/>

<!-- HDR F1 -->
<rect class="bar" x="1080" y="903" width="232" height="4"/><rect class="bar" x="1080" y="943" width="232" height="4"/>
<g>
<rect class="A" x="1085" y="908" width="15.8" height="17"/><rect class="T" x="1102.3" y="908" width="15.8" height="17"/><rect class="A" x="1119.6" y="908" width="15.8" height="17"/><rect class="A" x="1136.9" y="908" width="15.8" height="17"/><rect class="T" x="1154.2" y="908" width="15.8" height="17"/><rect class="G" x="1171.5" y="908" width="15.8" height="17"/><rect class="A" x="1188.8" y="908" width="15.8" height="17"/><rect class="T" x="1206.1" y="908" width="15.8" height="17"/><rect class="G" x="1223.4" y="908" width="15.8" height="17"/><rect class="T" x="1240.7" y="908" width="15.8" height="17"/><rect class="A" x="1258" y="908" width="15.8" height="17"/><rect class="G" x="1275.3" y="908" width="15.8" height="17"/><rect class="T" x="1292.6" y="908" width="15.8" height="17"/>
<rect class="T" x="1085" y="925" width="15.8" height="17"/><rect class="A" x="1102.3" y="925" width="15.8" height="17"/><rect class="T" x="1119.6" y="925" width="15.8" height="17"/><rect class="T" x="1136.9" y="925" width="15.8" height="17"/><rect class="A" x="1154.2" y="925" width="15.8" height="17"/><rect class="C" x="1171.5" y="925" width="15.8" height="17"/><rect class="T" x="1188.8" y="925" width="15.8" height="17"/><rect class="A" x="1206.1" y="925" width="15.8" height="17"/><rect class="C" x="1223.4" y="925" width="15.8" height="17"/><rect class="A" x="1240.7" y="925" width="15.8" height="17"/><rect class="T" x="1258" y="925" width="15.8" height="17"/><rect class="C" x="1275.3" y="925" width="15.8" height="17"/><rect class="A" x="1292.6" y="925" width="15.8" height="17"/>
<text class="L" font-size="13" y="922" x="1092.9 1110.2 1127.5 1144.8 1162.1 1179.4 1196.7 1214 1231.3 1248.6 1265.9 1283.2 1300.5">ATAATGATGTAGT</text>
<text class="L" font-size="13" y="939" x="1092.9 1110.2 1127.5 1144.8 1162.1 1179.4 1196.7 1214 1231.3 1248.6 1265.9 1283.2 1300.5">TATTACTACATCA</text>
</g>
<text class="p" x="1071" y="912" font-size="11">3'</text><text class="p" x="1071" y="947" font-size="11">5'</text>
<text class="p" x="1314" y="912" font-size="11">5'</text><text class="p" x="1314" y="950" font-size="11">3'</text>
<rect class="bx" x="1332" y="941" width="200" height="73" rx="4"/>
<text class="bt" x="1431" y="957" font-size="14.5">Correction of the</text>
<text class="bt" x="1431" y="974" font-size="14.5" textLength="182" lengthAdjust="spacingAndGlyphs">frameshift mutation by HR</text>
<text class="bt" x="1431" y="991" font-size="14.5" textLength="160" lengthAdjust="spacingAndGlyphs">with the corrected gene</text>
<text class="bt" x="1431" y="1009" font-size="14.5">version</text>
<path d="M1120,962 L1155,1005 M1155,962 L1120,1005 M1258,962 L1293,1005 M1293,962 L1258,1005" stroke="#666" stroke-width="1.5"/>

<!-- B7 -->
<rect class="bar" x="1082" y="1017" width="123" height="5"/><rect class="bar" x="1243" y="1017" width="83" height="5"/>
<rect class="bar" x="1082" y="1062" width="103" height="5"/><rect class="bar" x="1203" y="1062" width="123" height="5"/>
<g>
<rect class="A" x="1085" y="1023" width="18.5" height="19"/><rect class="T" x="1105" y="1023" width="18.5" height="19"/><rect class="A" x="1125" y="1023" width="18.5" height="19"/><rect class="A" x="1145" y="1023" width="18.5" height="19"/><rect class="T" x="1165" y="1023" width="18.5" height="19"/><rect class="G" x="1185" y="1023" width="18.5" height="19"/>
<rect class="T" x="1085" y="1042" width="18.5" height="19"/><rect class="A" x="1105" y="1042" width="18.5" height="19"/><rect class="T" x="1125" y="1042" width="18.5" height="19"/><rect class="T" x="1145" y="1042" width="18.5" height="19"/><rect class="A" x="1165" y="1042" width="18.5" height="19"/>
<rect class="T" x="1245" y="1023" width="18.5" height="19"/><rect class="A" x="1265" y="1023" width="18.5" height="19"/><rect class="G" x="1285" y="1023" width="18.5" height="19"/><rect class="T" x="1305" y="1023" width="18.5" height="19"/>
<rect class="T" x="1205" y="1042" width="18.5" height="19"/><rect class="A" x="1225" y="1042" width="18.5" height="19"/><rect class="A" x="1245" y="1042" width="18.5" height="19"/><rect class="T" x="1265" y="1042" width="18.5" height="19"/><rect class="C" x="1285" y="1042" width="18.5" height="19"/><rect class="A" x="1305" y="1042" width="18.5" height="19"/>
<text class="L" font-size="15" y="1038" x="1094 1114 1134 1154 1174 1194">ATAATG</text>
<text class="L" font-size="15" y="1057" x="1094 1114 1134 1154 1174">TATTA</text>
<text class="L" font-size="15" y="1038" x="1254 1274 1294 1314">TAGT</text>
<text class="L" font-size="15" y="1057" x="1214 1234 1254 1274 1294 1314">TAATCA</text>
</g>
<text class="p" x="1071" y="1026" font-size="11">3'</text><text class="p" x="1071" y="1066" font-size="11">5'</text>
<text class="p" x="1328" y="1026" font-size="11">5'</text><text class="p" x="1328" y="1068" font-size="11">3'</text>
<line class="ar" x1="1201" y1="1068" x2="1201" y2="1130" marker-end="url(#ah)"/>

<!-- F2 -->
<rect class="bar" x="1088" y="1151" width="232" height="4"/><rect class="bar" x="1088" y="1193" width="232" height="4"/><rect class="bar" x="1088" y="1234" width="232" height="4"/>
<g>
<rect class="A" x="1093" y="1156" width="15.7" height="18"/><rect class="T" x="1110.2" y="1156" width="15.7" height="18"/><rect class="A" x="1127.4" y="1156" width="15.7" height="18"/><rect class="A" x="1144.6" y="1156" width="15.7" height="18"/><rect class="T" x="1161.8" y="1156" width="15.7" height="18"/><rect class="G" x="1179" y="1156" width="15.7" height="18"/><rect class="A" x="1196.2" y="1156" width="15.7" height="18"/><rect class="T" x="1213.4" y="1156" width="15.7" height="18"/><rect class="G" x="1230.6" y="1156" width="15.7" height="18"/><rect class="T" x="1247.8" y="1156" width="15.7" height="18"/><rect class="A" x="1265" y="1156" width="15.7" height="18"/><rect class="G" x="1282.2" y="1156" width="15.7" height="18"/><rect class="T" x="1299.4" y="1156" width="15.7" height="18"/>
<rect class="U" x="1093" y="1174" width="15.7" height="18"/><rect class="A" x="1110.2" y="1174" width="15.7" height="18"/><rect class="U" x="1127.4" y="1174" width="15.7" height="18"/><rect class="U" x="1144.6" y="1174" width="15.7" height="18"/><rect class="A" x="1161.8" y="1174" width="15.7" height="18"/><rect class="C" x="1179" y="1174" width="15.7" height="18"/><rect class="U" x="1196.2" y="1174" width="15.7" height="18"/><rect class="A" x="1213.4" y="1174" width="15.7" height="18"/><rect class="C" x="1230.6" y="1174" width="15.7" height="18"/><rect class="A" x="1247.8" y="1174" width="15.7" height="18"/><rect class="U" x="1265" y="1174" width="15.7" height="18"/><rect class="C" x="1282.2" y="1174" width="15.7" height="18"/><rect class="A" x="1299.4" y="1174" width="15.7" height="18"/>
<rect class="T" x="1093" y="1215" width="15.7" height="18"/><rect class="A" x="1110.2" y="1215" width="15.7" height="18"/><rect class="T" x="1127.4" y="1215" width="15.7" height="18"/><rect class="T" x="1144.6" y="1215" width="15.7" height="18"/><rect class="A" x="1161.8" y="1215" width="15.7" height="18"/><rect class="C" x="1179" y="1215" width="15.7" height="18"/><rect class="T" x="1196.2" y="1215" width="15.7" height="18"/><rect class="A" x="1213.4" y="1215" width="15.7" height="18"/><rect class="C" x="1230.6" y="1215" width="15.7" height="18"/><rect class="A" x="1247.8" y="1215" width="15.7" height="18"/><rect class="T" x="1265" y="1215" width="15.7" height="18"/><rect class="C" x="1282.2" y="1215" width="15.7" height="18"/><rect class="A" x="1299.4" y="1215" width="15.7" height="18"/>
<text class="L" font-size="13" y="1170" x="1100.9 1118.1 1135.3 1152.5 1169.7 1186.9 1204.1 1221.3 1238.5 1255.7 1272.9 1290.1 1307.3">ATAATGATGTAGT</text>
<text class="L" font-size="13" y="1188" x="1100.9 1118.1 1135.3 1152.5 1169.7 1186.9 1204.1 1221.3 1238.5 1255.7 1272.9 1290.1 1307.3">UAUUACUACAUCA</text>
<text class="L" font-size="13" y="1229" x="1100.9 1118.1 1135.3 1152.5 1169.7 1186.9 1204.1 1221.3 1238.5 1255.7 1272.9 1290.1 1307.3">TATTACTACATCA</text>
</g>
<text class="p" x="1075" y="1162" font-size="11">3'</text><text class="p" x="1075" y="1197" font-size="11">5'</text><text class="p" x="1075" y="1240" font-size="11">5'</text>
<text class="p" x="1316" y="1160" font-size="11">5'</text><text class="p" x="1316" y="1197" font-size="11">3'</text><text class="p" x="1316" y="1240" font-size="11">3'</text>
<!-- ribosome -->
<path d="M1092,1190 q-8,-25 10,-35 q5,-25 28,-25 q22,0 28,20 q10,15 0,30 q-20,12 -66,10z" fill="#8fe090" opacity="0.65" stroke="#5cb060" stroke-width="1"/>
<path d="M1090,1200 q-5,-15 15,-18 q30,-3 48,2 q12,10 0,22 q-10,8 -30,4 q-25,4 -33,-10z" fill="#a6dcf2" opacity="0.7" stroke="#5aaed8" stroke-width="1"/>
<rect x="1109" y="1150" width="9" height="22" fill="#2a3fb0" opacity="0.8"/><rect x="1124" y="1150" width="9" height="22" fill="#8a2ab8" opacity="0.8"/>
<circle cx="1113" cy="1143" r="4" fill="#3a4fd0"/><circle cx="1128" cy="1143" r="4" fill="#b040d0"/>
<circle cx="1108" cy="1131" r="4" fill="#f8a840"/><circle cx="1124" cy="1122" r="4" fill="#c0a8f0"/><circle cx="1136" cy="1126" r="4" fill="#40c8b0"/><circle cx="1147" cy="1119" r="4" fill="#f060a0"/>
<rect class="bx" x="1335" y="1190" width="195" height="32" rx="4"/><text class="bt" x="1432" y="1212" font-size="15" textLength="183" lengthAdjust="spacingAndGlyphs">Functional mRNA transcript</text>
<rect class="bx" x="1131" y="1247" width="191" height="38" rx="4"/><text class="bt" x="1226" y="1272" font-size="15" textLength="172" lengthAdjust="spacingAndGlyphs">Repaired DNA (error free)</text>
</svg>
</body></html>
